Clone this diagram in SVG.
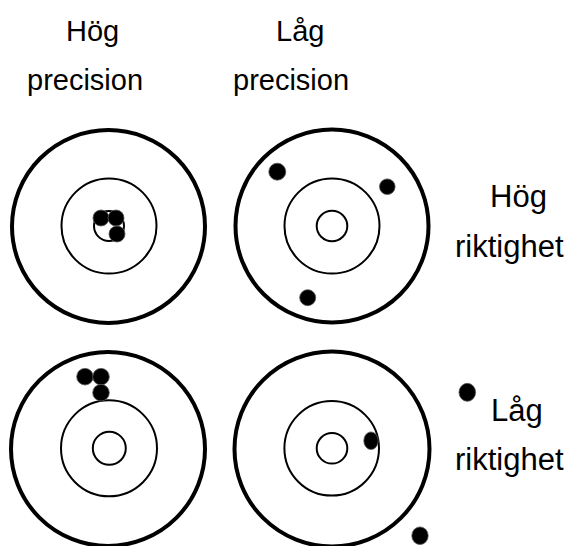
<svg xmlns="http://www.w3.org/2000/svg" width="570" height="546" viewBox="0 0 570 546">
  <style>
    .lbl { font-family: "Liberation Sans", Arial, sans-serif; fill: #000; }
    .top { font-size: 29px; }
    .side { font-size: 31px; }
    .outer { fill: none; stroke: #000; stroke-width: 4; }
    .ring { fill: none; stroke: #000; stroke-width: 2; }
    .hit { fill: #000; stroke: #555; stroke-width: 0.8; }
  </style>
  <rect width="570" height="546" fill="#fff"/>

  <!-- column headings -->
  <g id="col-hog-precision">
    <text class="lbl top" x="66" y="41">Hög</text>
    <text class="lbl top" x="27" y="90">precision</text>
  </g>
  <g id="col-lag-precision">
    <text class="lbl top" x="276" y="41">Låg</text>
    <text class="lbl top" x="233" y="90">precision</text>
  </g>

  <!-- row headings -->
  <g id="row-hog-riktighet">
    <text class="lbl side" x="490" y="207">Hög</text>
    <text class="lbl side" x="455" y="257">riktighet</text>
  </g>
  <g id="row-lag-riktighet">
    <text class="lbl side" x="491" y="421">Låg</text>
    <text class="lbl side" x="455" y="470">riktighet</text>
  </g>

  <!-- high precision, high accuracy -->
  <g id="target-hp-ha">
    <circle class="outer" cx="108.5" cy="226.5" r="96.5"/>
    <circle class="ring" cx="109" cy="226" r="47.5"/>
    <circle class="ring" cx="109" cy="226" r="15"/>
    <circle class="hit" cx="101" cy="218" r="8"/>
    <circle class="hit" cx="116" cy="218" r="8"/>
    <circle class="hit" cx="117" cy="234" r="8"/>
  </g>

  <!-- low precision, high accuracy -->
  <g id="target-lp-ha">
    <circle class="outer" cx="332" cy="226" r="96.5"/>
    <circle class="ring" cx="332" cy="226" r="47.5"/>
    <circle class="ring" cx="332" cy="226" r="15.3"/>
    <circle class="hit" cx="277.3" cy="171.7" r="8.5"/>
    <circle class="hit" cx="387.3" cy="186.7" r="7.8"/>
    <circle class="hit" cx="307.7" cy="297.7" r="8"/>
  </g>

  <!-- high precision, low accuracy -->
  <g id="target-hp-la">
    <circle class="outer" cx="108" cy="449" r="97"/>
    <circle class="ring" cx="109" cy="448.3" r="48"/>
    <circle class="ring" cx="109.3" cy="448.3" r="16.5"/>
    <circle class="hit" cx="85" cy="376.7" r="8.3"/>
    <circle class="hit" cx="101" cy="376.7" r="8.3"/>
    <circle class="hit" cx="101" cy="392.7" r="8.3"/>
  </g>

  <!-- low precision, low accuracy -->
  <g id="target-lp-la">
    <circle class="outer" cx="332" cy="449" r="97.5"/>
    <circle class="ring" cx="331.7" cy="448.3" r="47.3"/>
    <circle class="ring" cx="332" cy="448.3" r="15.3"/>
    <ellipse class="hit" cx="371" cy="440.7" rx="7.2" ry="8.8"/>
    <ellipse class="hit" cx="420" cy="535.7" rx="8.2" ry="8.8"/>
    <ellipse class="hit" cx="467.3" cy="392.3" rx="8.3" ry="9"/>
  </g>
</svg>
